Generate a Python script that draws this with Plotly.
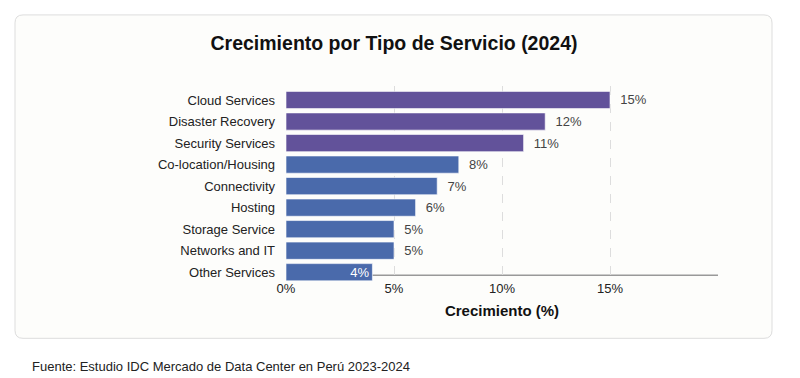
import plotly.graph_objects as go

categories = ["Cloud Services", "Disaster Recovery", "Security Services", "Co-location/Housing",
              "Connectivity", "Hosting", "Storage Service", "Networks and IT", "Other Services"]
values = [15, 12, 11, 8, 7, 6, 5, 5, 4]
tick_vals = [0, 5, 10, 15]
tick_text = ["0%", "5%", "10%", "15%"]

PURPLE = "#62529a"
BLUE = "#4a6aab"
colors = [PURPLE if i < 3 else BLUE for i in range(len(categories))]
n = len(categories)
positions = ["inside" if i == n - 1 else "outside" for i in range(n)]
labels = [f"{v}%" if i == n - 1 else f"\u00a0\u00a0{v}%" for i, v in enumerate(values)]

fig = go.Figure(go.Bar(
    x=values, y=categories, orientation="h",
    marker=dict(color=colors, line=dict(color="rgba(255,255,255,0.6)", width=1)),
    text=labels, textposition=positions,
    insidetextanchor="end", constraintext="none",
    outsidetextfont=dict(color="#444444", size=13),
    insidetextfont=dict(color="white", size=13),
    cliponaxis=False, width=0.8,
))

OFF = 8  # browser body margin
W, H = 800 - OFF, 378 - OFF
L, T = 286 - OFF, 86 - OFF
R = W - (718 - OFF)
B = H - (282.75 - OFF)
pw, ph = W - L - R, H - T - B

def px2x(px):
    return (px - OFF - L) / pw

def px2y(py):
    return (H - B - (py - OFF)) / ph

x0, x1, y0, y1, r = 15, 772, 15, 338, 8
path = (f"M {px2x(x0+r)},{px2y(y0)} L {px2x(x1-r)},{px2y(y0)} "
        f"Q {px2x(x1)},{px2y(y0)} {px2x(x1)},{px2y(y0+r)} "
        f"L {px2x(x1)},{px2y(y1-r)} Q {px2x(x1)},{px2y(y1)} {px2x(x1-r)},{px2y(y1)} "
        f"L {px2x(x0+r)},{px2y(y1)} Q {px2x(x0)},{px2y(y1)} {px2x(x0)},{px2y(y1-r)} "
        f"L {px2x(x0)},{px2y(y0+r)} Q {px2x(x0)},{px2y(y0)} {px2x(x0+r)},{px2y(y0)} Z")

fig.add_shape(type="path", path=path, xref="paper", yref="paper", layer="below",
              fillcolor="#fdfdfb", line=dict(color="#dddddd", width=1))
# x axis baseline
fig.add_shape(type="line", xref="x", yref="y", x0=0, x1=20, y0=-0.14, y1=-0.14,
              layer="below", line=dict(color="#999999", width=1.5))

fig.update_layout(
    width=W, height=H,
    margin=dict(l=L, r=R, t=T, b=B),
    paper_bgcolor="white", plot_bgcolor="rgba(0,0,0,0)",
    font=dict(family="Liberation Sans, Arial, sans-serif", size=13, color="#222222"),
    title=dict(text="<b>Crecimiento por Tipo de Servicio (2024)</b>",
               x=px2x(394), xref="paper", xanchor="center",
               y=1 - (43 - OFF) / H, yanchor="middle",
               font=dict(size=19.5, color="#111111")),
    showlegend=False,
    xaxis=dict(range=[0, 20], tickvals=tick_vals, ticktext=tick_text,
               showgrid=True, gridcolor="#dddddd", griddash="dash", gridwidth=1,
               zeroline=False, showline=False, ticks="",
               tickfont=dict(size=13, color="#222222"),
               ticklabelstandoff=-4,
               title=dict(text="<b>Crecimiento (%)</b>", font=dict(size=15, color="#111111"),
                          standoff=10)),
    yaxis=dict(categoryorder="array", categoryarray=categories[::-1],
               range=[-0.5, 8.65], showgrid=False, zeroline=False, showline=False,
               ticks="", ticklabelstandoff=10, tickfont=dict(size=13, color="#222222")),
    bargap=0.2,
)

fig.add_annotation(text="Fuente: Estudio IDC Mercado de Data Center en Perú 2023-2024",
                   xref="paper", yref="paper", x=px2x(30), y=px2y(366),
                   xanchor="left", yanchor="middle", showarrow=False,
                   font=dict(size=13, color="#222222"))

fig.write_html("out.html")
